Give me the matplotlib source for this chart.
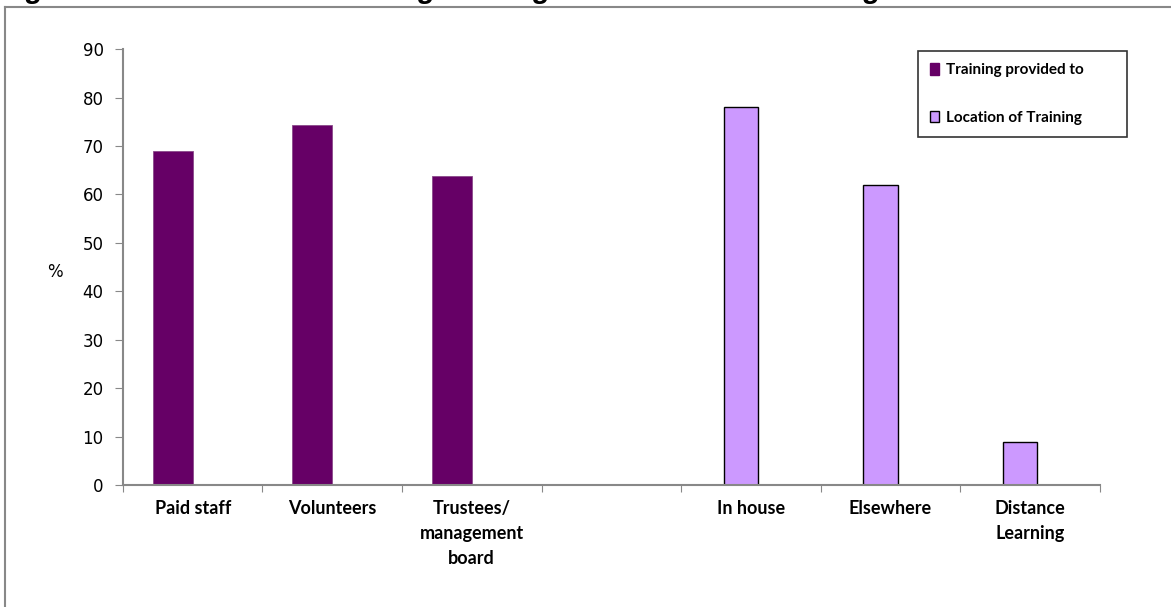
import numpy as np
import matplotlib.pyplot as plt
from matplotlib.patches import Patch

categories = ["Paid staff", "Volunteers", "Trustees/\nmanagement\nboard", "",
              "In house", "Elsewhere", "Distance\nLearning"]
training_provided = [69.0, 74.3, 63.8, 0, 0, 0, 0]
training_location = [0, 0, 0, 0, 78.0, 61.9, 8.8]
series_names = ["Training provided to", "Location of Training"]

dark = "#660066"
light = "#cc99ff"

fig = plt.figure(figsize=(11.71, 6.07), dpi=100)
ax = fig.add_axes([0.105, 0.201, 0.834, 0.718])

x = np.arange(len(categories))
w = 0.287
ax.bar(x[:3] - w / 2, training_provided[:3], width=w, color=dark,
       edgecolor="#8a4a8a", linewidth=0.6)
ax.bar(x[4:] - 0.07, training_location[4:], width=0.25, color=light,
       edgecolor="black", linewidth=1.0)

ax.set_xlim(-0.5, len(categories) - 0.5)
ax.set_ylim(0, 90)
ax.set_yticks(range(0, 91, 10))
ax.tick_params(axis="y", direction="out", length=6, color="#888888",
               labelsize=12, pad=8)
for lab in ax.get_yticklabels():
    lab.set_family("DejaVu Sans")

ax.set_xticks(np.arange(-0.5, len(categories), 1.0))
ax.set_xticklabels([])
ax.tick_params(axis="x", direction="out", length=5, color="#888888")
for xi, lab in zip(x, categories):
    ax.text(xi, -3.2, lab, ha="center", va="top", fontsize=13,
            fontweight="bold", family="Lato", linespacing=1.55)

for s in ["top", "right"]:
    ax.spines[s].set_visible(False)
for s in ["left", "bottom"]:
    ax.spines[s].set_color("#888888")
    ax.spines[s].set_linewidth(1.5)

fig.text(55 / 1171, 1 - 272 / 607, "%", fontsize=12, ha="center",
         va="center", family="DejaVu Sans")

handles = [Patch(facecolor=dark, edgecolor=dark),
           Patch(facecolor=light, edgecolor="black")]
leg = ax.legend(handles, series_names, loc="center",
                bbox_to_anchor=(918 / 1171, 1 - 137 / 607, 209 / 1171, 86 / 607),
                bbox_transform=fig.transFigure, mode="expand",
                prop={"family": "Lato", "weight": "bold", "size": 11},
                frameon=True, fancybox=False, handlelength=0.6,
                handleheight=0.8, handletextpad=0.4, labelspacing=2.2,
                borderpad=0.8, borderaxespad=0)
leg.get_frame().set_edgecolor("black")
leg.get_frame().set_linewidth(1.2)

# outer chart border (partly clipped)
fig.add_artist(plt.Line2D([5 / 1171, 5 / 1171], [0, 1 - 7 / 607],
                          color="#888888", lw=1.5))
fig.add_artist(plt.Line2D([5 / 1171, 1], [1 - 7 / 607, 1 - 7 / 607],
                          color="#888888", lw=1.5))

# title is clipped at the top edge, as in the source
fig.text(0.0, 1 + 2 / 607,
         "Figure 20: Individuals receiving training and location of training",
         fontsize=21, fontweight="bold", fontstyle="italic",
         family="Liberation Sans", ha="left", va="baseline")

fig.savefig("out.png", dpi=100)
